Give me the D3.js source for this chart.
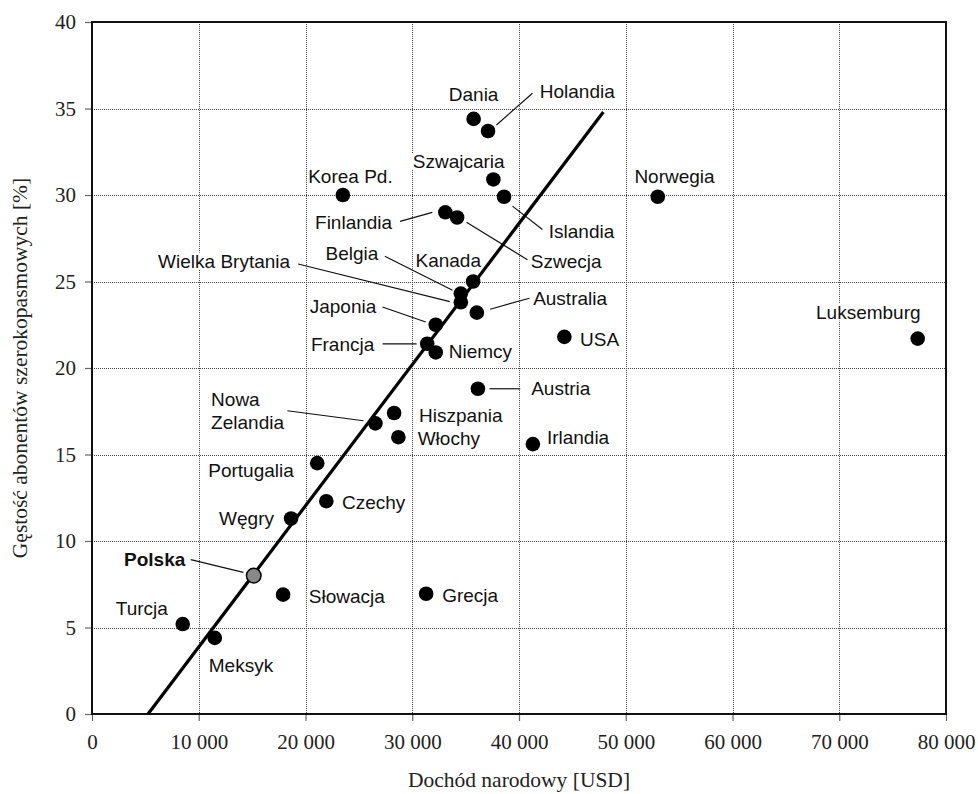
<!DOCTYPE html>
<html>
<head>
    <meta charset="utf-8">
    <script src="https://d3js.org/d3.v7.min.js"></script>
    <style>
        body { margin: 0; background: #fff; }
    </style>
</head>
<body>
    <div id="chart"></div>

    <script>
        // data
        const countries = ['Dania', 'Holandia', 'Szwajcaria', 'Islandia', 'Korea Pd.', 'Finlandia', 'Szwecja',
            'Kanada', 'Belgia', 'Wielka Brytania', 'Australia', 'Japonia', 'Francja', 'Niemcy', 'USA',
            'Austria', 'Hiszpania', 'Nowa Zelandia', 'Włochy', 'Irlandia', 'Portugalia', 'Czechy', 'Węgry',
            'Polska', 'Słowacja', 'Grecja', 'Turcja', 'Meksyk', 'Norwegia', 'Luksemburg'];
        const income = [35750, 37100, 37600, 38600, 23500, 33100, 34200,
            35700, 34550, 34550, 36050, 32200, 31400, 32200, 44250,
            36150, 28300, 26550, 28700, 41300, 21100, 21950, 18650,
            15150, 17900, 31300, 8500, 11500, 53000, 77350];
        const density = [34.4, 33.7, 30.9, 29.9, 30.0, 29.0, 28.7,
            25.0, 24.3, 23.8, 23.2, 22.5, 21.4, 20.9, 21.8,
            18.8, 17.4, 16.8, 16.0, 15.6, 14.5, 12.3, 11.3,
            8.0, 6.9, 6.95, 5.2, 4.4, 29.9, 21.7];
        // trend line end points
        const trendIncome = [5250, 47900];
        const trendDensity = [0, 34.8];

        const xTicks = [0, 10000, 20000, 30000, 40000, 50000, 60000, 70000, 80000];
        const yTicks = [0, 5, 10, 15, 20, 25, 30, 35, 40];
        const xTitle = 'Dochód narodowy [USD]';
        const yTitle = 'Gęstość abonentów szerokopasmowych [%]';

        // label layout: text offset from point and optional leader (px)
        const labelPos = {
            'Dania': {dx: 0, dy: -18, anchor: 'middle'},
            'Holandia': {dx: 51.7, dy: -33, line: [8.4, -6, 44.4, -37.7]},
            'Szwajcaria': {dx: -80.6, dy: -11.4},
            'Islandia': {dx: 44.7, dy: 41.7, line: [8.4, 9.4, 38.4, 32.7]},
            'Korea Pd.': {dx: -34.7, dy: -11.7},
            'Finlandia': {dx: -130.3, dy: 16.6, line: [-45.3, 9, -13, 0]},
            'Szwecja': {dx: 73.7, dy: 50.3, line: [9.4, 4.7, 70.4, 42.3]},
            'Kanada': {dx: -57.6, dy: -15},
            'Belgia': {dx: -135.3, dy: -33.3, line: [-76, -37.3, -8.3, -3.3]},
            'Wielka Brytania': {dx: -302.7, dy: -34.6, line: [-162.7, -38.3, -11, -0.6]},
            'Australia': {dx: 56.3, dy: -7.7, line: [13.3, -3.4, 52.6, -14.4]},
            'Japonia': {dx: -126, dy: -11.7, line: [-53.3, -17.7, -10, -2.7]},
            'Francja': {dx: -116.3, dy: 7, line: [-44.6, 0, -10.6, 0]},
            'Niemcy': {dx: 13, dy: 5.4},
            'USA': {dx: 15.7, dy: 9.3},
            'Austria': {dx: 53.3, dy: 6.7, line: [11.6, 0, 42.3, 0]},
            'Hiszpania': {dx: 25, dy: 9.4},
            'Nowa Zelandia': {dx: -164.3, dy: -17.3, lines: ['Nowa', 'Zelandia'], line: [-88, -12.6, -12, -2.6]},
            'Włochy': {dx: 19.3, dy: 7.7},
            'Irlandia': {dx: 14, dy: 0.3},
            'Portugalia': {dx: -109, dy: 13.4},
            'Czechy': {dx: 15.7, dy: 8},
            'Węgry': {dx: -72, dy: 6.7},
            'Polska': {dx: -129.7, dy: -10, bold: true, line: [-63, -16, -10.4, -3.3]},
            'Słowacja': {dx: 25.7, dy: 8.4},
            'Grecja': {dx: 16, dy: 8},
            'Turcja': {dx: -67, dy: -9.3},
            'Meksyk': {dx: -6, dy: 34},
            'Norwegia': {dx: -23.4, dy: -14},
            'Luksemburg': {dx: -101.7, dy: -20}
        };

        const width = 978;
        const height = 794;
        const plot = {left: 92, right: 946, top: 22, bottom: 714};

        const svg = d3.select('#chart')
            .append('svg')
            .attr('width', width)
            .attr('height', height);

        const x = d3.scaleLinear().domain([0, 80000]).range([plot.left, plot.right]);
        const y = d3.scaleLinear().domain([0, 40]).range([plot.bottom, plot.top]);

        const fmt = d => d === 0 ? '0' : d3.format(',')(d).replace(',', ' ');

        // grid
        const grid = svg.append('g').attr('stroke', '#444').attr('stroke-width', 1)
            .attr('stroke-dasharray', '1,1');
        grid.selectAll('.gx').data(xTicks.slice(1, -1)).enter().append('line')
            .attr('x1', d => Math.round(x(d)) + 0.5).attr('x2', d => Math.round(x(d)) + 0.5)
            .attr('y1', plot.top).attr('y2', plot.bottom);
        grid.selectAll('.gy').data(yTicks.slice(1, -1)).enter().append('line')
            .attr('y1', d => Math.round(y(d)) + 0.5).attr('y2', d => Math.round(y(d)) + 0.5)
            .attr('x1', plot.left).attr('x2', plot.right);

        // axes
        const xAxis = svg.append('g')
            .attr('transform', `translate(0, ${plot.bottom})`)
            .call(d3.axisBottom(x).tickValues(xTicks).tickFormat(fmt).tickSize(7).tickPadding(13));
        const yAxis = svg.append('g')
            .attr('transform', `translate(${plot.left}, 0)`)
            .call(d3.axisLeft(y).tickValues(yTicks).tickSize(7).tickPadding(9));
        [xAxis, yAxis].forEach(a => {
            a.select('.domain').remove();
            a.selectAll('line').attr('stroke', '#666').attr('stroke-width', 1.2);
            a.selectAll('text')
                .attr('font-family', '"Liberation Serif", "Times New Roman", serif')
                .attr('font-size', 21)
                .attr('fill', '#222');
        });

        // frame
        svg.append('rect')
            .attr('x', plot.left).attr('y', plot.top)
            .attr('width', plot.right - plot.left).attr('height', plot.bottom - plot.top)
            .attr('fill', 'none').attr('stroke', '#111').attr('stroke-width', 2);

        // titles
        svg.append('text')
            .attr('x', (plot.left + plot.right) / 2).attr('y', 787)
            .attr('text-anchor', 'middle')
            .attr('font-family', '"Liberation Serif", serif').attr('font-size', 21.5).attr('fill', '#222')
            .text(xTitle);
        svg.append('text')
            .attr('transform', `translate(27, ${(plot.top + plot.bottom) / 2}) rotate(-90)`)
            .attr('text-anchor', 'middle')
            .attr('font-family', '"Liberation Serif", serif').attr('font-size', 21.5).attr('fill', '#222')
            .text(yTitle);

        // labels
        const pts = countries.map((c, i) => ({name: c, cx: x(income[i]), cy: y(density[i])}));
        const labels = svg.append('g');
        pts.forEach(p => {
            const L = labelPos[p.name];
            const t = labels.append('text')
                .attr('font-family', '"Liberation Sans", Arial, sans-serif')
                .attr('font-size', 19)
                .attr('font-weight', L.bold ? 'bold' : 'normal')
                .attr('fill', '#111')
                .attr('text-anchor', L.anchor || 'start');
            const lines = L.lines || [p.name];
            lines.forEach((s, k) => {
                t.append('tspan').attr('x', p.cx + L.dx).attr('y', p.cy + L.dy + k * 23.3).text(s);
            });
            const b = t.node().getBBox();
            labels.insert('rect', () => t.node())
                .attr('x', b.x - 1).attr('y', b.y + 2).attr('width', b.width + 2).attr('height', b.height - 4)
                .attr('fill', '#fff');
            if (L.line) {
                labels.append('line')
                    .attr('x1', p.cx + L.line[0]).attr('y1', p.cy + L.line[1])
                    .attr('x2', p.cx + L.line[2]).attr('y2', p.cy + L.line[3])
                    .attr('stroke', '#111').attr('stroke-width', 1.2);
            }
        });

        // trend line
        svg.append('line')
            .attr('x1', x(trendIncome[0])).attr('y1', y(trendDensity[0]))
            .attr('x2', x(trendIncome[1])).attr('y2', y(trendDensity[1]))
            .attr('stroke', '#000').attr('stroke-width', 3.2);

        // points
        svg.selectAll('circle')
            .data(pts)
            .enter()
            .append('circle')
            .attr('cx', d => d.cx)
            .attr('cy', d => d.cy)
            .attr('r', 7.3)
            .attr('fill', d => d.name === 'Polska' ? '#888' : '#000')
            .attr('stroke', '#000')
            .attr('stroke-width', d => d.name === 'Polska' ? 1.5 : 0);
    </script>
</body>
</html>
